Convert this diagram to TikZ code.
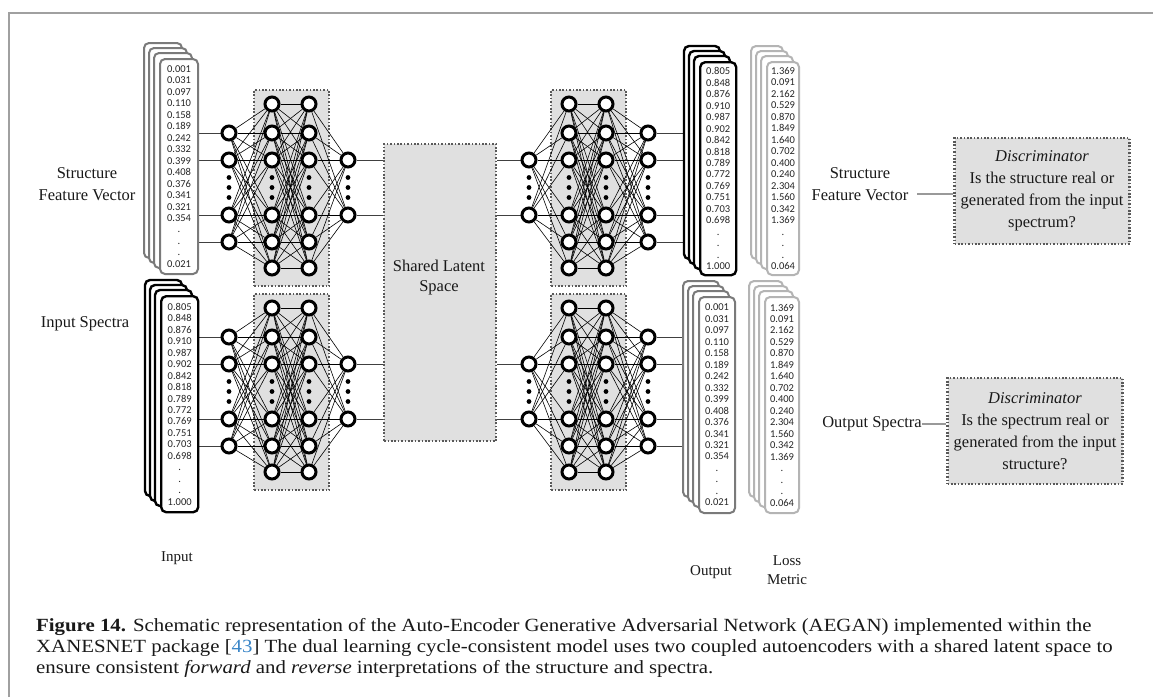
\documentclass[tikz,border=0pt]{standalone}
\usepackage{fontspec}
\setmainfont{Liberation Serif}
\newfontfamily\numfont{Carlito}
\newfontfamily\capfont[FakeStretch=1.12]{Liberation Serif}
\definecolor{boxgray}{HTML}{E0E0E0}
\definecolor{midgray}{HTML}{7A7A7A}
\definecolor{lightgray2}{HTML}{B4B4B4}
\definecolor{framegray}{HTML}{A0A0A0}
\definecolor{linkblue}{HTML}{3A86C8}
\pgfdeclarelayer{bg}
\pgfdeclarelayer{boxes}
\pgfdeclarelayer{edges}
\pgfsetlayers{bg,boxes,edges,main}
\tikzset{
  neuron/.style={circle, draw=black, line width=3pt, fill=white, minimum size=14pt, inner sep=0pt},
  conn/.style={line width=0.6pt, black},
  feed/.style={line width=0.9pt, black!75},
  glink/.style={line width=1.1pt, black!40},
  dotbox/.style={fill=boxgray, draw=black!65, line width=2.2pt, dash pattern=on 1.6pt off 1.8pt, inner sep=0pt},
  card/.style={rounded corners=5pt, fill=white},
  cardtext/.style={font=\numfont\fontsize{10.5}{11.47}\selectfont, align=center, inner sep=0pt, text=black!85},
  lbl/.style={font=\fontsize{16.5}{22}\selectfont, align=center, inner sep=0pt, text=black!90},
  capt/.style={font=\capfont\fontsize{18.6}{21}\selectfont, inner sep=0pt, text=black!90},
  small/.style={font=\fontsize{15}{19.5}\selectfont, align=center, inner sep=0pt, text=black!90},
}
% card stack: #1 name, #2 x, #3 y, #4 w, #5 h, #6 colour, #7 line width, #8 text
\newcommand\cardstack[8]{%
  \foreach \k in {3,2,1} {%
    \draw[card, draw=#6, line width=#7] ({#2-5*\k},{#3-5*\k}) rectangle ++(#4,#5);
  }
  \node[card, draw=#6, line width=#7, minimum width=#4pt, minimum height=#5pt, anchor=north west, inner sep=0pt] (#1) at (#2,#3) {};
  \node[cardtext] (#1-txt) at (#1.center) {#8};
}
% layer: #1 name, #2 x, #3 rows, #4 y offset
\newcommand\netlayer[4]{%
  \foreach \r [count=\k] in {#3} {\node[neuron] (#1-\k) at (#2,{\r+#4}) {};}
  \foreach \d in {-10,0,10} {\fill (#2,{187.5+#4+(\d)}) circle (2.4pt);}
}
\newcommand\fullconn[4]{%
  \begin{pgfonlayer}{edges}
  \foreach \i in {1,...,#2} {\foreach \j in {1,...,#4} {\draw[conn] (#1-\i) -- (#3-\j);}}
  \end{pgfonlayer}}
% network: #1 prefix, #2..#5 layer x, #6 y offset, #7 first layer rows, #8 last layer rows
\newcommand\network[8]{%
  \begin{pgfonlayer}{boxes}
  \node[dotbox, anchor=north west, minimum width=75pt, minimum height=196pt] (#1box) at ({#3-19},{89+#6}) {};
  \end{pgfonlayer}
  \netlayer{#1a}{#2}{#7}{#6}
  \netlayer{#1b}{#3}{104,133,160,215,242,268}{#6}
  \netlayer{#1c}{#4}{104,133,160,215,242,268}{#6}
  \netlayer{#1d}{#5}{#8}{#6}
}
\newcommand\structvals{0.001\\0.031\\0.097\\0.110\\0.158\\0.189\\0.242\\0.332\\0.399\\0.408\\0.376\\0.341\\0.321\\0.354\\.\\.\\.\\0.021}
\newcommand\specvals{0.805\\0.848\\0.876\\0.910\\0.987\\0.902\\0.842\\0.818\\0.789\\0.772\\0.769\\0.751\\0.703\\0.698\\.\\.\\.\\1.000}
\newcommand\lossvals{1.369\\0.091\\2.162\\0.529\\0.870\\1.849\\1.640\\0.702\\0.400\\0.240\\2.304\\1.560\\0.342\\1.369\\.\\.\\.\\0.064}

\begin{document}
\begin{tikzpicture}[x=1pt,y=-1pt]
\useasboundingbox (0,0) rectangle (1153,697);
\begin{pgfonlayer}{bg}
\fill[white] (0,0) rectangle (1153,697);
\end{pgfonlayer}
% frame
\draw[framegray, line width=1.5pt] (9,697) -- (9,13) -- (1153,13);

% card stacks
\cardstack{tl}{159}{58}{38}{215}{midgray}{2pt}{\structvals}
\cardstack{bl}{160}{295}{37}{216}{black}{2.4pt}{\specvals}
\cardstack{tr}{699}{61}{36}{213}{black}{2.4pt}{\specvals}
\cardstack{br}{698}{296}{36}{216}{midgray}{2pt}{\structvals}
\cardstack{trl}{766}{61}{32}{213}{lightgray2}{2pt}{\lossvals}
\cardstack{brl}{764}{296}{34}{216}{lightgray2}{2pt}{\lossvals}

% networks
\network{e1}{229}{272}{309}{348}{0}{133,160,215,242}{160,215}
\network{e2}{229}{272}{309}{348}{204}{133,160,215,242}{160,215}
\network{d1}{529}{569}{606}{648}{0}{160,215}{133,160,215,242}
\network{d2}{529}{569}{606}{648}{204}{160,215}{133,160,215,242}
\fullconn{e1a}{4}{e1b}{6}\fullconn{e1b}{6}{e1c}{6}\fullconn{e1c}{6}{e1d}{2}
\fullconn{e2a}{4}{e2b}{6}\fullconn{e2b}{6}{e2c}{6}\fullconn{e2c}{6}{e2d}{2}
\fullconn{d1a}{2}{d1b}{6}\fullconn{d1b}{6}{d1c}{6}\fullconn{d1c}{6}{d1d}{4}
\fullconn{d2a}{2}{d2b}{6}\fullconn{d2b}{6}{d2c}{6}\fullconn{d2c}{6}{d2d}{4}

% shared latent space
\begin{pgfonlayer}{boxes}
\node[dotbox, anchor=north west, minimum width=112pt, minimum height=297pt] (latent) at (383,143) {};
\end{pgfonlayer}
\node[lbl, font=\fontsize{16.5}{20}\selectfont] (latent-txt) at (439,278) {Shared Latent\\Space};

% feeds
\begin{pgfonlayer}{edges}
\foreach \k in {1,...,4} {
  \draw[feed] (tl.east |- e1a-\k) -- (e1a-\k);
  \draw[feed] (bl.east |- e2a-\k) -- (e2a-\k);
  \draw[feed] (d1d-\k) -- (tr.west |- d1d-\k);
  \draw[feed] (d2d-\k) -- (br.west |- d2d-\k);
}
\foreach \k in {1,2} {
  \draw[feed] (e1d-\k) -- (latent.west |- e1d-\k);
  \draw[feed] (e2d-\k) -- (latent.west |- e2d-\k);
  \draw[feed] (latent.east |- d1a-\k) -- (d1a-\k);
  \draw[feed] (latent.east |- d2a-\k) -- (d2a-\k);
}
\end{pgfonlayer}

% left labels
\node[lbl] (lab-sfv) at (87,184) {Structure\\Feature Vector};
\node[lbl] (lab-is) at (85,324) {Input Spectra};

% right labels and discriminators
\node[lbl] (rlab-sfv) at (860,184) {Structure\\Feature Vector};
\node[lbl] (rlab-os) at (872,424) {Output Spectra};
\node[dotbox, lbl, minimum width=175pt, minimum height=106pt] (disc1) at (1042,191)
  {\textit{Discriminator}\\Is the structure real or\\generated from the input\\spectrum?};
\node[dotbox, lbl, minimum width=175pt, minimum height=106pt] (disc2) at (1035,431)
  {\textit{Discriminator}\\Is the spectrum real or\\generated from the input\\structure?};
\coordinate (rl1) at (917,194);
\draw[glink] (rl1) -- (disc1.west |- rl1);
\draw[glink] (rlab-os.east) -- (disc2.west |- rlab-os.east);

% bottom labels
\node[small] (lab-in) at (177,558) {Input};
\node[small] (lab-out) at (711,572) {Output};
\node[small] (lab-loss) at (787,570) {Loss\\Metric};

% caption
\node[capt, anchor=base west] (cap1) at (36,631) {\textbf{Figure 14.} Schematic representation of the Auto-Encoder Generative Adversarial Network (AEGAN) implemented within the};
\node[capt, anchor=base west] (cap2) at (36,652) {XANESNET package [\textcolor{linkblue}{43}] The dual learning cycle-consistent model uses two coupled autoencoders with a shared latent space to};
\node[capt, anchor=base west] (cap3) at (36,673) {ensure consistent \textit{forward} and \textit{reverse} interpretations of the structure and spectra.};
\end{tikzpicture}
\end{document}
